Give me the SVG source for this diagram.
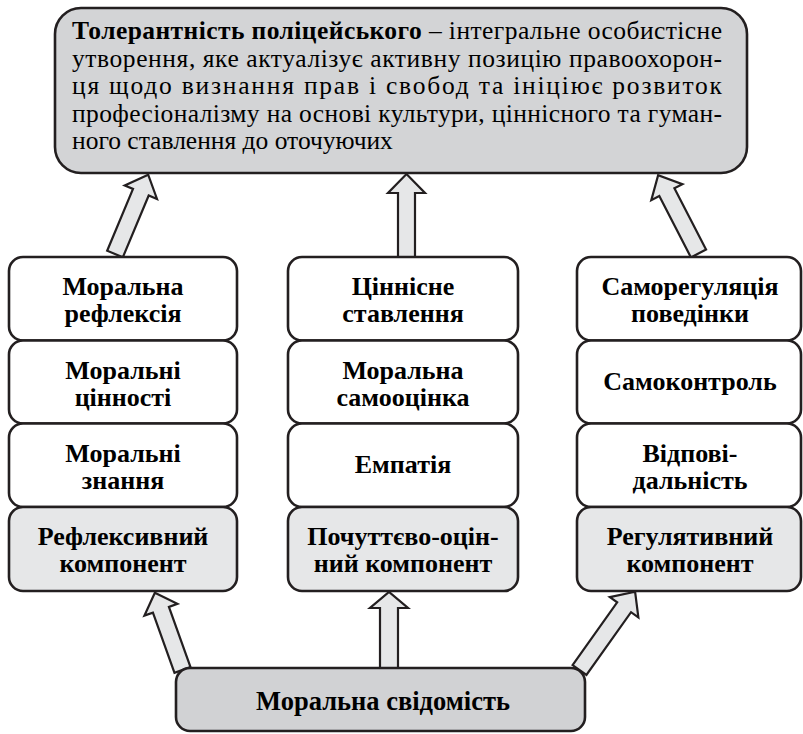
<svg xmlns="http://www.w3.org/2000/svg" width="803" height="734" viewBox="0 0 803 734">
<rect width="803" height="734" fill="#ffffff"/>
<defs>
<polygon id="arrow-up" points="-8.5,0 -8.5,-64 -18.5,-64 0,-83 18.5,-64 8.5,-64 8.5,0"/>
</defs>

<g id="connectors" fill="#e6e7e8" stroke="#231f20" stroke-width="2.2" stroke-linejoin="miter">
<polygon transform="translate(115,254) rotate(22.7)" points="-8.5,0 -8.5,-67 -17.5,-67 0,-86 17.5,-67 8.5,-67 8.5,0"/>
<use href="#arrow-up" transform="translate(406.5,257)"/>
<polygon transform="translate(698.5,253.5) rotate(-27.3)" points="-8.5,0 -8.5,-69 -17.5,-69 0,-88 17.5,-69 8.5,-69 8.5,0"/>
<polygon transform="translate(182.5,670) rotate(-19.7)" points="-8.5,0 -8.5,-64 -17.5,-64 0,-82 17.5,-64 8.5,-64 8.5,0"/>
<polygon transform="translate(389,668)" points="-9,0 -9,-60 -19,-60 0,-76 19,-60 9,-60 9,0"/>
<polygon transform="translate(579.5,670) rotate(35.4)" points="-8.5,0 -8.5,-77 -17.5,-77 0,-96 17.5,-77 8.5,-77 8.5,0"/>
</g>

<g id="node-definition">
<rect x="55" y="8" width="692" height="165" rx="26" ry="26" fill="#d3d4d6" stroke="#231f20" stroke-width="2.6"/>
<text font-family="Times New Roman" font-size="25.5" x="72" y="39" textLength="650" lengthAdjust="spacing"><tspan font-weight="bold">Толерантність поліцейського</tspan> – інтегральне особистісне</text>
<text font-family="Times New Roman" font-size="25.5" x="72" y="66.5" textLength="650" lengthAdjust="spacing">утворення, яке актуалізує активну позицію правоохорон-</text>
<text font-family="Times New Roman" font-size="25.5" x="72" y="94" textLength="650" lengthAdjust="spacing">ця щодо визнання прав і свобод та ініціює розвиток</text>
<text font-family="Times New Roman" font-size="25.5" x="72" y="121.5" textLength="650" lengthAdjust="spacing">професіоналізму на основі культури, ціннісного та гуман-</text>
<text font-family="Times New Roman" font-size="25.5" x="72" y="149">ного ставлення до оточуючих</text>
</g>

<g id="node-moral-reflection">
<rect x="9" y="257" width="228" height="83.5" rx="14" fill="#ffffff" stroke="#231f20" stroke-width="2.6"/>
<text font-family="Times New Roman" font-size="26" font-weight="bold" text-anchor="middle" x="123" y="295">Моральна</text>
<text font-family="Times New Roman" font-size="26" font-weight="bold" text-anchor="middle" x="123" y="322">рефлексія</text>
</g>
<g id="node-moral-values">
<rect x="9" y="340.5" width="228" height="83" rx="14" fill="#ffffff" stroke="#231f20" stroke-width="2.6"/>
<text font-family="Times New Roman" font-size="26" font-weight="bold" text-anchor="middle" x="123" y="378.5">Моральні</text>
<text font-family="Times New Roman" font-size="26" font-weight="bold" text-anchor="middle" x="123" y="405.5">цінності</text>
</g>
<g id="node-moral-knowledge">
<rect x="9" y="423.5" width="228" height="83.5" rx="14" fill="#ffffff" stroke="#231f20" stroke-width="2.6"/>
<text font-family="Times New Roman" font-size="26" font-weight="bold" text-anchor="middle" x="123" y="462">Моральні</text>
<text font-family="Times New Roman" font-size="26" font-weight="bold" text-anchor="middle" x="123" y="489">знання</text>
</g>
<g id="node-reflexive">
<rect x="9" y="507" width="228" height="84" rx="14" fill="#e6e7e8" stroke="#231f20" stroke-width="2.6"/>
<text font-family="Times New Roman" font-size="26" font-weight="bold" text-anchor="middle" x="123" y="545">Рефлексивний</text>
<text font-family="Times New Roman" font-size="26" font-weight="bold" text-anchor="middle" x="123" y="572">компонент</text>
</g>

<g id="node-value-attitude">
<rect x="288" y="257" width="230" height="83.5" rx="14" fill="#ffffff" stroke="#231f20" stroke-width="2.6"/>
<text font-family="Times New Roman" font-size="26" font-weight="bold" text-anchor="middle" x="403" y="295">Ціннісне</text>
<text font-family="Times New Roman" font-size="26" font-weight="bold" text-anchor="middle" x="403" y="322">ставлення</text>
</g>
<g id="node-self-esteem">
<rect x="288" y="340.5" width="230" height="83" rx="14" fill="#ffffff" stroke="#231f20" stroke-width="2.6"/>
<text font-family="Times New Roman" font-size="26" font-weight="bold" text-anchor="middle" x="403" y="378.5">Моральна</text>
<text font-family="Times New Roman" font-size="26" font-weight="bold" text-anchor="middle" x="403" y="405.5">самооцінка</text>
</g>
<g id="node-empathy">
<rect x="288" y="423.5" width="230" height="83.5" rx="14" fill="#ffffff" stroke="#231f20" stroke-width="2.6"/>
<text font-family="Times New Roman" font-size="26" font-weight="bold" text-anchor="middle" x="403" y="473">Емпатія</text>
</g>
<g id="node-emotional">
<rect x="288" y="507" width="230" height="84" rx="14" fill="#e6e7e8" stroke="#231f20" stroke-width="2.6"/>
<text font-family="Times New Roman" font-size="26" font-weight="bold" text-anchor="middle" x="403" y="545">Почуттєво-оцін-</text>
<text font-family="Times New Roman" font-size="26" font-weight="bold" text-anchor="middle" x="403" y="572">ний компонент</text>
</g>

<g id="node-self-regulation">
<rect x="577" y="257" width="224" height="83.5" rx="14" fill="#ffffff" stroke="#231f20" stroke-width="2.6"/>
<text font-family="Times New Roman" font-size="26" font-weight="bold" text-anchor="middle" x="690" y="295">Саморегуляція</text>
<text font-family="Times New Roman" font-size="26" font-weight="bold" text-anchor="middle" x="690" y="322">поведінки</text>
</g>
<g id="node-self-control">
<rect x="577" y="340.5" width="224" height="83" rx="14" fill="#ffffff" stroke="#231f20" stroke-width="2.6"/>
<text font-family="Times New Roman" font-size="26" font-weight="bold" text-anchor="middle" x="690" y="390">Самоконтроль</text>
</g>
<g id="node-responsibility">
<rect x="577" y="423.5" width="224" height="83.5" rx="14" fill="#ffffff" stroke="#231f20" stroke-width="2.6"/>
<text font-family="Times New Roman" font-size="26" font-weight="bold" text-anchor="middle" x="690" y="462">Відпові-</text>
<text font-family="Times New Roman" font-size="26" font-weight="bold" text-anchor="middle" x="690" y="489">дальність</text>
</g>
<g id="node-regulative">
<rect x="577" y="507" width="224" height="84" rx="14" fill="#e6e7e8" stroke="#231f20" stroke-width="2.6"/>
<text font-family="Times New Roman" font-size="26" font-weight="bold" text-anchor="middle" x="690" y="545">Регулятивний</text>
<text font-family="Times New Roman" font-size="26" font-weight="bold" text-anchor="middle" x="690" y="572">компонент</text>
</g>

<g id="node-moral-consciousness">
<rect x="176" y="668" width="409" height="63" rx="14" fill="#d1d2d4" stroke="#231f20" stroke-width="2.6"/>
<text font-family="Times New Roman" font-size="26.5" font-weight="bold" text-anchor="middle" x="383" y="710">Моральна свідомість</text>
</g>
</svg>
